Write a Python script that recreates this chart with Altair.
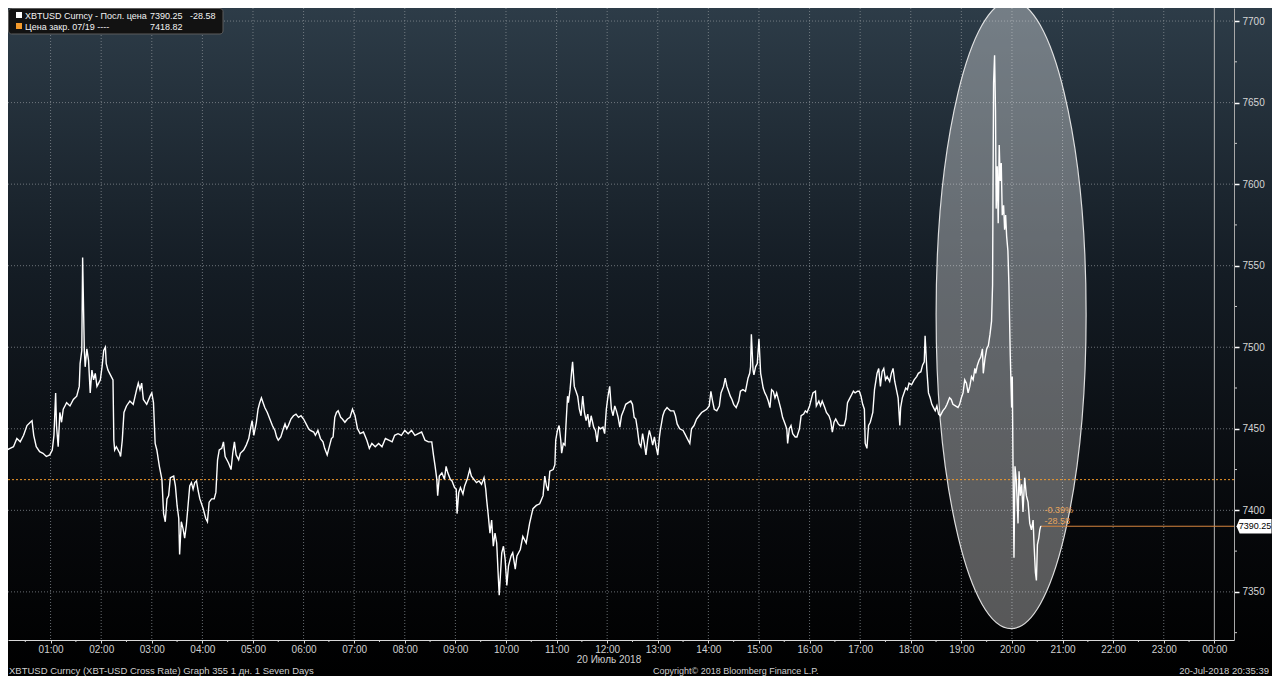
import altair as alt
import pandas as pd

# ---------------- data (minutes after 00:00, 20 July 2018 ; price USD) ----------------
seg_a_t = [0, 4, 8, 12, 16, 20, 24, 28, 32, 36, 38, 40, 43, 47, 51, 55, 59, 62, 64, 66,
           67, 69, 71, 73, 75, 77, 79, 83, 87, 91, 94, 95, 97, 98, 100, 101, 103, 105, 107, 109,
           111, 113, 115, 117, 119, 121, 123, 125, 126, 128, 130, 134, 135, 136, 138, 142, 143, 145, 147, 150,
           154, 158, 162, 164, 166, 168, 170, 174, 178, 180, 182, 184, 186, 189, 192, 194, 196, 198, 200]
seg_a_p = [7425, 7431, 7437, 7438, 7439, 7444, 7442, 7446, 7452, 7454,
           7455, 7446, 7439, 7436, 7435, 7433, 7434, 7437, 7446, 7472,
           7452, 7439, 7460, 7454, 7462, 7464, 7466, 7464, 7468, 7470,
           7476, 7490, 7498, 7555, 7498, 7488, 7499, 7492, 7472, 7486,
           7480, 7484, 7476, 7478, 7480, 7488, 7498, 7500, 7490, 7486,
           7484, 7480, 7443, 7437, 7439, 7435, 7433, 7443, 7460, 7464,
           7467, 7465, 7474, 7478, 7474, 7478, 7468, 7465, 7470, 7472,
           7466, 7441, 7437, 7427, 7419, 7398, 7393, 7407, 7409]

seg_b_t = [202, 206, 208, 210, 212, 213, 215, 217, 219, 221,
           223, 225, 227, 229, 231, 233, 235, 237, 241, 244,
           246, 248, 251, 254, 256, 258, 260, 263, 265, 267,
           269, 271, 274, 276, 278, 280, 283, 285, 289, 292,
           295, 297, 299, 301, 304, 306, 308, 310, 312, 314,
           317, 320, 323, 326, 328, 330, 333, 336, 338, 340,
           342, 345, 348, 351, 354, 357, 360, 363, 366, 368,
           372, 374, 377, 380, 383, 385, 388, 391, 393, 395,
           397, 399, 401, 404, 406, 409, 412, 415]
seg_b_p = [7420, 7421, 7415, 7403, 7395, 7373, 7393, 7389, 7383, 7391,
           7403, 7415, 7417, 7413, 7417, 7418, 7412, 7407, 7401, 7395,
           7393, 7405, 7407, 7407, 7411, 7431, 7437, 7438, 7442, 7433,
           7431, 7429, 7425, 7435, 7442, 7434, 7431, 7435, 7437, 7440,
           7444, 7450, 7455, 7446, 7454, 7462, 7466, 7469, 7466, 7463,
           7460, 7456, 7452, 7449, 7445, 7443, 7445, 7450, 7453, 7450,
           7452, 7456, 7458, 7459, 7457, 7458, 7456, 7453, 7450, 7449,
           7448, 7446, 7449, 7444, 7442, 7438, 7434, 7440, 7444, 7445,
           7457, 7460, 7461, 7457, 7456, 7454, 7456, 7457]

seg_c_t = [418, 421, 424, 427, 431, 435, 438, 441, 445, 449,
           453, 457, 461, 465, 468, 472, 476, 480, 484, 488,
           492, 496, 500, 504, 508, 512, 514, 516, 518, 519,
           521, 524, 527, 529, 531, 534, 536, 539, 541, 542,
           544, 546, 549, 551, 554, 557, 559, 562, 565, 568,
           571, 574, 576, 577, 579, 581, 583, 585, 587, 589,
           591, 592, 595, 597, 599, 601, 603, 606, 608, 611,
           613, 617, 620, 624, 628]
seg_c_p = [7462, 7458, 7450, 7447, 7448, 7443, 7438, 7441, 7439, 7441,
           7439, 7444, 7443, 7442, 7446, 7447, 7446, 7449, 7447, 7449,
           7446, 7447, 7448, 7443, 7442, 7442, 7434, 7427, 7419, 7409,
           7421, 7423, 7419, 7427, 7423, 7419, 7418, 7414, 7413, 7398,
           7411, 7414, 7410, 7415, 7419, 7425, 7421, 7419, 7417, 7418,
           7416, 7420, 7413, 7407, 7397, 7386, 7394, 7378, 7386, 7380,
           7358, 7348, 7374, 7378, 7370, 7354, 7366, 7372, 7374, 7364,
           7372, 7376, 7384, 7380, 7392]

seg_d_t = [632, 636, 640, 644, 646, 648, 650, 652, 656, 658,
           659, 661, 663, 665, 666, 668, 670, 671, 673, 674,
           676, 678, 679, 681, 683, 685, 687, 689, 691, 693,
           695, 697, 699, 701, 704, 706, 708, 710, 712, 715,
           717, 719, 721, 723, 725, 727, 729, 731, 733, 735,
           737, 740, 742, 745, 748, 750, 752, 754, 756, 758,
           760, 762, 764, 766, 768, 770, 772, 774, 776, 778,
           780, 782, 783, 786, 788, 791, 793, 795, 799, 801,
           803, 806, 810, 812, 815, 818]
seg_d_p = [7401, 7403, 7404, 7409, 7421, 7415, 7412, 7424, 7425, 7428,
           7443, 7449, 7452, 7443, 7435, 7441, 7440, 7451, 7470, 7466,
           7474, 7486, 7491, 7476, 7473, 7470, 7462, 7458, 7470, 7460,
           7455, 7459, 7451, 7458, 7451, 7449, 7442, 7451, 7450, 7451,
           7447, 7462, 7470, 7476, 7462, 7458, 7464, 7461, 7457, 7451,
           7458, 7462, 7465, 7466, 7467, 7465, 7457, 7456, 7449, 7441,
           7439, 7447, 7441, 7434, 7443, 7449, 7445, 7440, 7445, 7439,
           7434, 7445, 7449, 7458, 7461, 7463, 7462, 7461, 7461, 7458,
           7453, 7450, 7449, 7447, 7444, 7441]

seg_e_t = [820, 823, 826, 829, 832, 835, 838, 841, 843, 845,
           847, 850, 853, 855, 858, 860, 862, 864, 866, 868,
           870, 873, 876, 878, 881, 884, 887, 889, 890, 891,
           893, 894, 896, 898, 900, 902, 903, 905, 907, 909,
           911, 913, 915, 917, 919, 921, 923, 926, 928, 931,
           933, 934, 936, 938, 940, 943, 945, 948, 950, 953,
           955, 957, 960, 962, 964, 967, 968, 971, 973, 975,
           978, 980, 983, 985, 987, 989, 991, 994, 996, 998,
           1001, 1003, 1005, 1007, 1010, 1012, 1014, 1017, 1019, 1021,
           1023, 1025, 1026, 1028, 1030, 1032, 1035, 1037, 1040, 1042]
seg_e_p = [7450, 7452, 7456, 7458, 7460, 7461, 7462, 7464, 7473, 7467,
           7462, 7461, 7464, 7472, 7476, 7481, 7476, 7473, 7470, 7468,
           7465, 7463, 7467, 7473, 7474, 7473, 7481, 7484, 7488, 7508,
           7486, 7483, 7488, 7490, 7505, 7484, 7481, 7475, 7472, 7470,
           7467, 7463, 7474, 7473, 7469, 7472, 7468, 7462, 7457, 7453,
           7450, 7441, 7450, 7452, 7447, 7445, 7445, 7450, 7458, 7459,
           7461, 7460, 7464, 7468, 7472, 7473, 7464, 7467, 7464, 7467,
           7463, 7460, 7458, 7455, 7448, 7454, 7456, 7453, 7452, 7452,
           7452, 7456, 7466, 7468, 7471, 7473, 7472, 7473, 7473, 7470,
           7465, 7462, 7441, 7438, 7452, 7454, 7460, 7474, 7484, 7487]

seg_f_t = [1044, 1046, 1048, 1050, 1052, 1055, 1057, 1059, 1061, 1063,
           1065, 1067, 1068, 1070, 1072, 1074, 1076, 1078, 1081, 1084,
           1087, 1089, 1092, 1094, 1096, 1097, 1099, 1101, 1103, 1105,
           1107, 1109, 1111, 1113, 1115, 1118, 1121, 1123, 1126, 1128,
           1130, 1133, 1136, 1138, 1140, 1142, 1144, 1146, 1148, 1150,
           1152, 1154, 1156, 1157, 1159, 1161, 1163, 1165, 1166, 1168,
           1170, 1172, 1174, 1175.8, 1177.0, 1178.2, 1179.4, 1180.5, 1181.3, 1182.5,
           1183.7, 1184.9, 1186.1, 1187.3, 1188.5, 1190.1, 1191.3, 1192.5, 1193.7, 1195.2,
           1196.4, 1198.0, 1199.6, 1200.4, 1201.2, 1202.4, 1203.6, 1205.2, 1207.2, 1208.4,
           1209.9, 1211.5, 1213.1, 1215.1, 1217.1, 1219.1, 1221.1, 1223.1, 1225.1, 1226.2,
           1227.8, 1229.0, 1230.2, 1231.8, 1233.0, 1234.0, 1235.0]
seg_f_p = [7476, 7485, 7487, 7480, 7482, 7479, 7484, 7487, 7479, 7474,
           7469, 7452, 7463, 7469, 7472, 7475, 7474, 7478, 7477, 7480,
           7482, 7484, 7485, 7489, 7491, 7507, 7487, 7472, 7469, 7465,
           7463, 7461, 7464, 7459, 7458, 7461, 7463, 7465, 7469, 7468,
           7465, 7464, 7463, 7465, 7469, 7472, 7480, 7478, 7472, 7476,
           7482, 7480, 7487, 7484, 7489, 7492, 7494, 7499, 7484, 7493,
           7499, 7501, 7508, 7516, 7538, 7662, 7679, 7645, 7585, 7611,
           7576, 7624, 7602, 7613, 7581, 7587, 7572, 7581, 7568, 7559,
           7538, 7495, 7463, 7482, 7431, 7371, 7427, 7418, 7392, 7424,
           7409, 7416, 7399, 7420, 7409, 7405, 7392, 7388, 7394, 7379,
           7362, 7357, 7379, 7383, 7388, 7390, 7390.25]

last_price = 7390.25
last_change = "-28.58"
last_change_pct = "-0.39%"
prev_close = 7418.82
y_ticks = [7350, 7400, 7450, 7500, 7550, 7600, 7650, 7700]
y_minor = [7325, 7375, 7425, 7475, 7525, 7575, 7625, 7675]
hour_ticks = list(range(60, 1441, 60))
half_hours = list(range(30, 1441, 60))
highlight_t, highlight_p = 1199, 7520   # centre of the highlighted zone

times = seg_a_t + seg_b_t + seg_c_t + seg_d_t + seg_e_t + seg_f_t
prices = seg_a_p + seg_b_p + seg_c_p + seg_d_p + seg_e_p + seg_f_p
df = pd.DataFrame({"t": times, "p": prices})

# ---------------- layout ----------------
W, H = 1226, 632
TOTAL_W, TOTAL_H = 1264, 668
T0, T1 = 9.5, 1463.3
FONT = "Liberation Sans"

xscale = alt.Scale(domain=[T0, T1], nice=False, zero=False)
yscale = alt.Scale(domain=[7320.5, 7708], nice=False, zero=False)

hour_expr = ("(floor(datum.value/60)%24 < 10 ? '0' : '') + "
             "floor(datum.value/60)%24 + ':00'")
xaxis = alt.Axis(values=hour_ticks, labelExpr=hour_expr, title=None, grid=False,
                 domainColor="#d8d8d8", tickColor="#d8d8d8", tickSize=3,
                 labelColor="#d0d0d0", labelFont=FONT, labelFontSize=10,
                 labelPadding=1, labelOverlap=False, labelFlush=False, zindex=1)
yaxis = alt.Axis(orient="right", values=y_ticks, format="d", title=None, grid=False,
                 domainColor="#a8a8a8", tickColor="#ffffff", tickSize=5, tickWidth=1.5,
                 labelColor="#d6d6d6", labelFont=FONT, labelFontSize=10,
                 labelPadding=3, labelOverlap=False, zindex=1)

X = lambda f="t": alt.X(f"{f}:Q", scale=xscale, axis=xaxis)
Y = lambda f="p": alt.Y(f"{f}:Q", scale=yscale, axis=yaxis)

one = pd.DataFrame({"k": [0]})

bg = alt.Chart(one).mark_rect(
    color=alt.Gradient(gradient="linear", x1=0, x2=0, y1=0, y2=1,
                       stops=[alt.GradientStop(offset=0, color="#2d3c48"),
                              alt.GradientStop(offset=0.4, color="#141c24"),
                              alt.GradientStop(offset=0.75, color="#07090c"),
                              alt.GradientStop(offset=1, color="#000000")])
).encode(x=alt.value(0), x2=alt.value(TOTAL_W), y=alt.value(0), y2=alt.value(TOTAL_H))

grid_h = alt.Chart(pd.DataFrame({"p": y_ticks})).mark_rule(
    color="#8a9096", strokeDash=[1, 2], strokeWidth=1, opacity=0.75
).encode(y=Y(), x=alt.value(0), x2=alt.value(W))

grid_v = alt.Chart(pd.DataFrame({"t": hour_ticks[:-1]})).mark_rule(
    color="#8a9096", strokeDash=[1, 2], strokeWidth=1, opacity=0.75
).encode(x=X(), y=alt.value(0), y2=alt.value(H))

day_line = alt.Chart(pd.DataFrame({"t": [1440]})).mark_rule(
    color="#b4b4b4", strokeWidth=1
).encode(x=X(), y=alt.value(0), y2=alt.value(H))

minor_y = alt.Chart(pd.DataFrame({"p": y_minor})).mark_rule(
    color="#cccccc", strokeWidth=1
).encode(y=Y(), x=alt.value(W), x2=alt.value(W + 3))

minor_x = alt.Chart(pd.DataFrame({"t": half_hours})).mark_rule(
    color="#cccccc", strokeWidth=1
).encode(x=X(), y=alt.value(H), y2=alt.value(H + 2))

ell_rx = 75.0 / 314.0
ell_path = (f"M {-ell_rx} 0 A {ell_rx} 1 0 1 0 {ell_rx} 0 "
            f"A {ell_rx} 1 0 1 0 {-ell_rx} 0 Z")
ellipse = alt.Chart(pd.DataFrame({"t": [highlight_t], "p": [highlight_p]})).mark_point(
    shape=ell_path, size=628 * 628, filled=True, fill="#ffffff", fillOpacity=0.34,
    stroke="#f0f0f0", strokeWidth=1.2, strokeOpacity=0.9, opacity=1
).encode(x=X(), y=Y())

close_line = alt.Chart(pd.DataFrame({"p": [prev_close]})).mark_rule(
    color="#f39a2c", strokeDash=[2, 2], strokeWidth=1
).encode(y=Y(), x=alt.value(0), x2=alt.value(W))

price_line = alt.Chart(df).mark_line(color="#ffffff", strokeWidth=1.4).encode(x=X(), y=Y())

last_df = pd.DataFrame({"t": [times[-1]], "t2": [T1], "p": [last_price]})
last_line = alt.Chart(last_df).mark_rule(color="#d7863f", strokeWidth=1).encode(
    x=X(), x2="t2:Q", y=Y())

pct_txt = alt.Chart(last_df).mark_text(
    align="left", baseline="middle", dx=3, dy=-16, font=FONT, fontSize=9, color="#e6a45c"
).encode(x=X(), y=Y(), text=alt.value(last_change_pct))
chg_txt = alt.Chart(last_df).mark_text(
    align="left", baseline="middle", dx=3, dy=-5, font=FONT, fontSize=9, color="#e6a45c"
).encode(x=X(), y=Y(), text=alt.value(last_change))

tag_path = "M -1 0 L -0.82 -0.42 L 1 -0.42 L 1 0.42 L -0.82 0.42 Z"
tag = alt.Chart(last_df).mark_point(
    shape=tag_path, size=35 * 35, filled=True, fill="#ffffff", opacity=1, strokeWidth=0
).encode(x=alt.value(W + 20), y=Y())
tag_txt = alt.Chart(last_df).mark_text(
    align="center", baseline="middle", font=FONT, fontSize=9, color="#000000"
).encode(x=alt.value(W + 21), y=Y(), text=alt.value(f"{last_price:.2f}"))


def label(text, x, y, size=10, color="#e0e0e0", align="left"):
    return alt.Chart(one).mark_text(
        align=align, baseline="middle", font=FONT, fontSize=size, color=color
    ).encode(x=alt.value(x), y=alt.value(y), text=alt.value(text))


legend_box = alt.Chart(one).mark_rect(
    fill="#121212", stroke="#5c5c5c", strokeWidth=1, cornerRadius=3
).encode(x=alt.value(0.5), x2=alt.value(215), y=alt.value(0.5), y2=alt.value(26))
sq1 = alt.Chart(one).mark_rect(fill="#ffffff").encode(
    x=alt.value(8), x2=alt.value(14), y=alt.value(4), y2=alt.value(10))
sq2 = alt.Chart(one).mark_rect(fill="#f39a2c").encode(
    x=alt.value(8), x2=alt.value(14), y=alt.value(15), y2=alt.value(21))

texts = [
    label("XBTUSD Curncy - Посл. цена", 17, 7.5, size=9, color="#f2f2f2"),
    label(f"{last_price:.2f}", 142, 7.5, size=9, color="#f2f2f2"),
    label(last_change, 182, 7.5, size=9, color="#f2f2f2"),
    label("Цена закр. 07/19 ----", 17, 18.5, size=9, color="#f2f2f2"),
    label(f"{prev_close:.2f}", 142, 18.5, size=9, color="#f2f2f2"),
    label("20 Июль 2018", 601, 652, size=10, color="#d0d0d0", align="center"),
    label("XBTUSD Curncy (XBT-USD Cross Rate) Graph 355 1 дн. 1 Seven Days", 1, 662.5,
          size=9.5, color="#cfcfcf"),
    label("Copyright© 2018 Bloomberg Finance L.P.", 645, 662.5, size=9, color="#cfcfcf"),
    label("20-Jul-2018 20:35:39", TOTAL_W - 3, 662.5, size=9.5, color="#cfcfcf",
          align="right"),
]

chart = alt.layer(
    bg, grid_h, grid_v, day_line, minor_y, minor_x, ellipse, close_line,
    price_line, last_line, pct_txt, chg_txt, tag, tag_txt,
    legend_box, sq1, sq2, *texts
).properties(
    width=W, height=H,
    padding={"left": 0, "top": 0, "right": TOTAL_W - W, "bottom": TOTAL_H - H},
    autosize=alt.AutoSizeParams(type="none"),
).configure(background="#000000").configure_view(strokeWidth=0)

chart.save("out.html", embed_options={"renderer": "svg", "actions": False})
